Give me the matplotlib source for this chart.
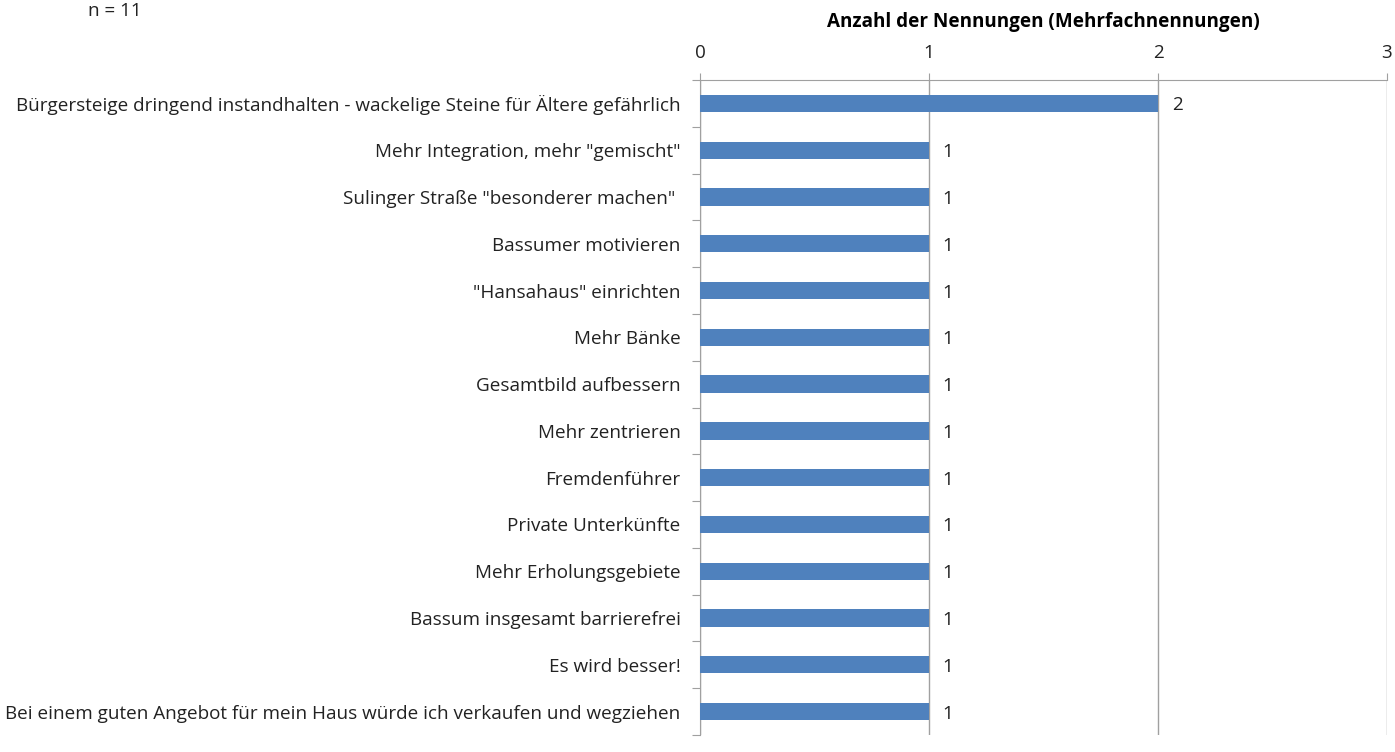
import numpy as np
import matplotlib.pyplot as plt

plt.rcParams['font.family'] = ['Open Sans', 'DejaVu Sans']

# Daten
kategorien = [
    'Bürgersteige dringend instandhalten - wackelige Steine für Ältere gefährlich',
    'Mehr Integration, mehr "gemischt"',
    'Sulinger Straße "besonderer machen" ',
    'Bassumer motivieren',
    '"Hansahaus" einrichten',
    'Mehr Bänke',
    'Gesamtbild aufbessern',
    'Mehr zentrieren',
    'Fremdenführer',
    'Private Unterkünfte',
    'Mehr Erholungsgebiete',
    'Bassum insgesamt barrierefrei',
    'Es wird besser!',
    'Bei einem guten Angebot für mein Haus würde ich verkaufen und wegziehen',
]
werte = [2, 1, 1, 1, 1, 1, 1, 1, 1, 1, 1, 1, 1, 1]
x_ticks = [0, 1, 2, 3]

fs = 13.6
fig = plt.figure(figsize=(13.95, 7.52), dpi=100)
ax = fig.add_axes([0.5018, 0.0226, 0.4925, 0.871])

y = np.arange(len(kategorien))
ax.barh(y, werte, height=0.37, color='#4f81bd', zorder=3)
for yi, w in zip(y, werte):
    ax.text(w + 0.06, yi, str(w), va='center_baseline', ha='left', fontsize=fs, color='#222222')

ax.set_ylim(len(kategorien) - 0.5, -0.5)
ax.set_xlim(0, 3)
ax.xaxis.tick_top()
ax.set_xticks(x_ticks)
ax.tick_params(axis='x', length=5, color='#a0a0a0', labelsize=fs, pad=8, labelcolor='#222222')
ax.set_yticks(np.arange(len(kategorien) + 1) - 0.5, minor=False)
ax.set_yticklabels([])
ax.set_yticks(y, minor=True)
ax.set_yticklabels(kategorien, minor=True, fontsize=fs, color='#222222', va='center_baseline')
ax.tick_params(axis='y', which='major', length=6, color='#a0a0a0', direction='out')
ax.tick_params(axis='y', which='minor', length=0, pad=14)

ax.grid(axis='x', color='#a0a0a0', linewidth=1, zorder=0)
for s in ['right', 'bottom']:
    ax.spines[s].set_visible(False)
ax.spines['top'].set_color('#a0a0a0')
ax.spines['left'].set_color('#a0a0a0')

ax.set_title('Anzahl der Nennungen (Mehrfachnennungen)', fontsize=fs, fontweight='bold', pad=38)
fig.text(0.063, 0.986, 'n = 11', fontsize=fs, va='center', color='#222222')

fig.savefig('out.png', dpi=100)
